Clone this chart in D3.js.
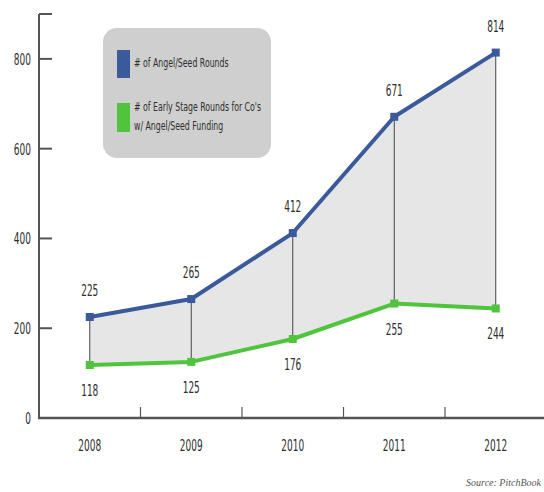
<!DOCTYPE html>
<html lang="en">
<head>
<meta charset="UTF-8">
<title>Angel/Seed Rounds</title>
<style>
  body { margin: 0; background: #fff; }
  svg text { font-family: "DejaVu Sans", sans-serif; fill: #2e2e2e; }
</style>
</head>
<body>
<script src="https://d3js.org/d3.v7.min.js"></script>
<script>
var years = ["2008", "2009", "2010", "2011", "2012"];
var angelSeed = [225, 265, 412, 671, 814];
var earlyStage = [118, 125, 176, 255, 244];
var yTicks = [0, 200, 400, 600, 800];
var seriesNames = ["# of Angel/Seed Rounds", "# of Early Stage Rounds for Co's", "w/ Angel/Seed Funding"];

var W = 544, H = 492;
var blue = "#3b5a9c", green = "#50c43c";
var squeeze = 0.6; // the original uses a very narrow face

var svg = d3.select("body").append("svg")
    .attr("width", W).attr("height", H);

var x = d3.scaleBand().domain(years).range([39, 546.5]);
var y = d3.scaleLinear().domain([0, 900]).range([418, 14]);
var cx = function(d) { return x(d) + x.bandwidth() / 2; };

// place narrow text: position via translate, then squash horizontally
function place(px, py) {
    return function(d, i) {
        var tx = typeof px === "function" ? px(d, i) : px;
        var ty = typeof py === "function" ? py(d, i) : py;
        return "translate(" + tx + "," + ty + ") scale(" + squeeze + ",1)";
    };
}

var rows = years.map(function(yr, i) {
    return {year: yr, a: angelSeed[i], e: earlyStage[i]};
});

// shaded band between the two series
svg.append("path")
    .datum(rows)
    .attr("fill", "#e6e6e6")
    .attr("d", d3.area()
        .x(function(d) { return cx(d.year); })
        .y0(function(d) { return y(d.e); })
        .y1(function(d) { return y(d.a); }));

// drop lines
svg.selectAll(".drop").data(rows).enter().append("line")
    .attr("x1", function(d) { return cx(d.year); })
    .attr("x2", function(d) { return cx(d.year); })
    .attr("y1", function(d) { return y(d.a); })
    .attr("y2", function(d) { return y(d.e); })
    .attr("stroke", "#444").attr("stroke-width", 1);

// axes
svg.append("line").attr("x1", 39).attr("x2", 39).attr("y1", y(900)).attr("y2", y(0))
    .attr("stroke", "#555").attr("stroke-width", 2);
svg.append("line").attr("x1", 38).attr("x2", W).attr("y1", y(0)).attr("y2", y(0))
    .attr("stroke", "#555").attr("stroke-width", 2.5);

svg.selectAll(".ytick").data(yTicks.concat([900])).enter().append("line")
    .attr("x1", 39).attr("x2", 52)
    .attr("y1", function(d) { return y(d); }).attr("y2", function(d) { return y(d); })
    .attr("stroke", "#555").attr("stroke-width", 2);

svg.selectAll(".ylab").data(yTicks).enter().append("text")
    .attr("transform", place(31, function(d) { return y(d) + 6; }))
    .attr("text-anchor", "end").attr("font-size", 15)
    .text(function(d) { return d; });

svg.selectAll(".xtick").data(years.slice(1)).enter().append("line")
    .attr("x1", function(d) { return x(d); }).attr("x2", function(d) { return x(d); })
    .attr("y1", y(0) - 11).attr("y2", y(0))
    .attr("stroke", "#555").attr("stroke-width", 1.2);

svg.selectAll(".xlab").data(years).enter().append("text")
    .attr("transform", place(cx, 451))
    .attr("text-anchor", "middle").attr("font-size", 15)
    .text(function(d) { return d; });

// series lines
function drawSeries(key, color) {
    svg.append("path").datum(rows)
        .attr("fill", "none").attr("stroke", color).attr("stroke-width", 4)
        .attr("stroke-linejoin", "round")
        .attr("d", d3.line()
            .x(function(d) { return cx(d.year); })
            .y(function(d) { return y(d[key]); }));
    svg.selectAll(".pt-" + key).data(rows).enter().append("rect")
        .attr("x", function(d) { return cx(d.year) - 4; })
        .attr("y", function(d) { return y(d[key]) - 4; })
        .attr("width", 8).attr("height", 8)
        .attr("fill", color);
}
drawSeries("a", blue);
drawSeries("e", green);

// value labels
svg.selectAll(".alab").data(rows).enter().append("text")
    .attr("transform", place(function(d) { return cx(d.year); }, function(d) { return y(d.a) - 21; }))
    .attr("text-anchor", "middle").attr("font-size", 15)
    .text(function(d) { return d.a; });
svg.selectAll(".elab").data(rows).enter().append("text")
    .attr("transform", place(function(d) { return cx(d.year); }, function(d) { return y(d.e) + 31; }))
    .attr("text-anchor", "middle").attr("font-size", 15)
    .text(function(d) { return d.e; });

// legend
var lg = svg.append("g");
lg.append("rect").attr("x", 103).attr("y", 28).attr("width", 168).attr("height", 130)
    .attr("rx", 14).attr("fill", "#cfcfcf");
lg.append("rect").attr("x", 117).attr("y", 50).attr("width", 13).attr("height", 28).attr("fill", blue);
lg.append("rect").attr("x", 117).attr("y", 103).attr("width", 13).attr("height", 29).attr("fill", green);
lg.selectAll(".lgt").data(seriesNames).enter().append("text")
    .attr("transform", place(134, function(d, i) { return [67, 111, 130][i]; }))
    .attr("font-size", 13)
    .text(function(d) { return d; });

// source
svg.append("text").attr("x", 541).attr("y", 486).attr("font-size", 10)
    .attr("text-anchor", "end")
    .attr("font-style", "italic").style("fill", "#555")
    .style("font-family", "'Liberation Serif', serif")
    .text("Source: PitchBook");
</script>
</body>
</html>
